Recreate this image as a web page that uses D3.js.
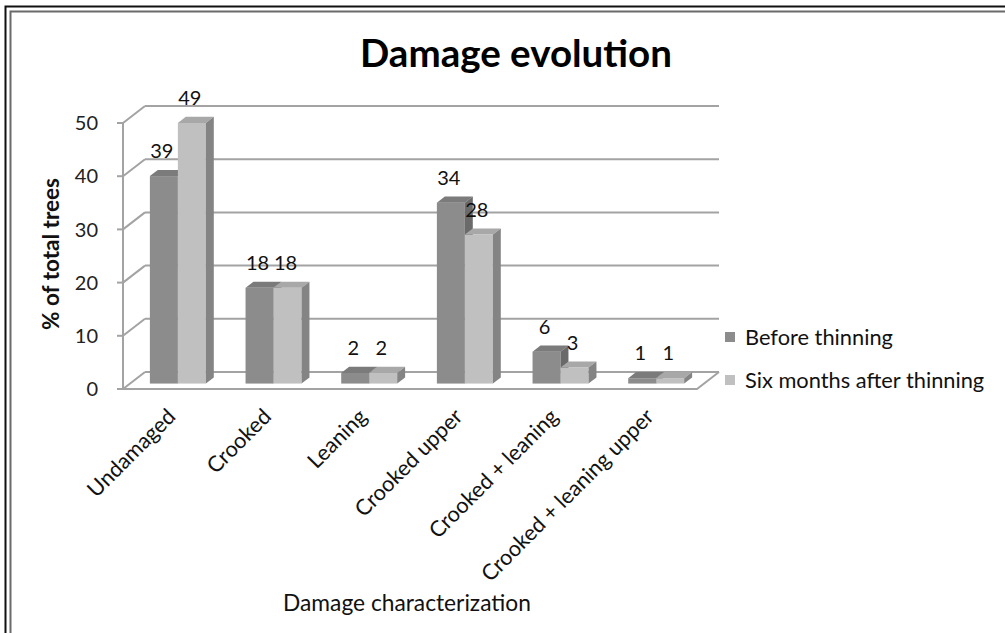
<!DOCTYPE html>
<html>
<head>
<meta charset="utf-8">
<script src="https://cdn.jsdelivr.net/npm/d3@7"></script>
<style>
  body { margin: 0; background: #fff; }
  svg { display: block; font-family: Lato, "Open Sans", sans-serif; }
</style>
</head>
<body>
<div id="chart"></div>
<script>
// data
const categories = ['Undamaged', 'Crooked', 'Leaning', 'Crooked upper', 'Crooked + leaning', 'Crooked + leaning upper'];
const seriesNames = ['Before thinning', 'Six months after thinning'];
const beforeValues = [39, 18, 2, 34, 6, 1];
const afterValues = [49, 18, 2, 28, 3, 1];
const yTicks = [0, 10, 20, 30, 40, 50];

const W = 1005, H = 633;
const DX = 22, DY = 17;      // depth of the 3d box
const F1 = 0.32, F2 = 0.68;  // bars sit between these depth fractions
const frontColors = ['#8c8c8c', '#c0c0c0'];
const topColors = ['#7b7b7b', '#a8a8a8'];
const sideColors = ['#6a6a6a', '#848484'];
const gridColor = '#a3a3a3';

const svg = d3.select('#chart').append('svg').attr('width', W).attr('height', H);

// fit a text to a width by changing its font size
function fitText(sel, width) {
  const base = parseFloat(sel.attr('font-size'));
  const len = sel.node().getComputedTextLength();
  sel.attr('font-size', (base * width / len).toFixed(2));
}

// frame
svg.append('path').attr('d', `M5.5,${H}V6.5H${W}`).attr('fill', 'none').attr('stroke', '#111').attr('stroke-width', 2);
svg.append('path').attr('d', `M10.5,${H}V11.5H${W}`).attr('fill', 'none').attr('stroke', '#6a6a6a').attr('stroke-width', 2);

const x = d3.scaleBand().domain(categories).range([123, 697]);
const y = d3.scaleLinear().domain([0, 50]).range([389, 123]);
const xs = d3.scaleBand().domain([0, 1]).range([-28, 28]);

// back wall grid, side wall diagonals, ticks
const grid = svg.append('g').attr('stroke', gridColor).attr('stroke-width', 2).attr('fill', 'none');
yTicks.forEach(t => {
  grid.append('line').attr('x1', 123 + DX).attr('x2', 697 + DX).attr('y1', y(t) - DY).attr('y2', y(t) - DY);
  grid.append('line').attr('x1', 123).attr('x2', 123 + DX).attr('y1', y(t)).attr('y2', y(t) - DY);
  grid.append('line').attr('x1', 117).attr('x2', 123).attr('y1', y(t)).attr('y2', y(t));
});
grid.append('line').attr('x1', 123).attr('x2', 123).attr('y1', y(50)).attr('y2', y(0));
// floor front and right edge
grid.append('path').attr('d', `M123,${y(0)}H697L${697 + DX},${y(0) - DY}`);

// y tick labels
svg.append('g').selectAll('text').data(yTicks).join('text')
  .attr('x', 98).attr('y', d => y(d)).attr('dy', '0.36em')
  .attr('text-anchor', 'end').attr('font-size', 20).attr('fill', '#222')
  .text(d => d);

// bars
const bars = [];
categories.forEach((c, i) => {
  [beforeValues[i], afterValues[i]].forEach((v, s) => bars.push({ c, s, v }));
});
const bdx = (F2 - F1) * DX, bdy = (F2 - F1) * DY;
const barW = xs.bandwidth();
const barG = svg.append('g');
bars.forEach(d => {
  const x0 = x(d.c) + x.bandwidth() / 2 + xs(d.s) + F1 * DX;
  const x1 = x0 + barW;
  const yb = y(0) - F1 * DY;
  const yt = y(d.v) - F1 * DY;
  const g = barG.append('g');
  g.append('rect').attr('x', x0).attr('y', yt).attr('width', barW).attr('height', yb - yt)
    .attr('fill', frontColors[d.s]);
  g.append('path').attr('d', `M${x0},${yt}L${x1},${yt}L${x1 + bdx},${yt - bdy}L${x0 + bdx},${yt - bdy}Z`)
    .attr('fill', topColors[d.s]);
  g.append('path').attr('d', `M${x1},${yt}L${x1 + bdx},${yt - bdy}L${x1 + bdx},${yb - bdy}L${x1},${yb}Z`)
    .attr('fill', sideColors[d.s]);
  d.lx = (x0 + x1) / 2 - 2;
  d.ly = yt - 18;
});

// data labels
svg.append('g').selectAll('text').data(bars).join('text')
  .attr('x', d => d.lx).attr('y', d => d.ly)
  .attr('text-anchor', 'middle').attr('font-size', 20).attr('fill', '#111')
  .text(d => d.v);

// category labels
const catLabels = svg.append('g').selectAll('text').data(categories).join('text')
  .attr('transform', d => `translate(${x(d) + x.bandwidth() / 2 + 6},${418}) rotate(-45)`)
  .attr('text-anchor', 'end').attr('font-size', 18).attr('fill', '#111')
  .text(d => d);
// size all category labels from "Crooked + leaning"
const refLabel = catLabels.filter(d => d === 'Crooked + leaning');
fitText(refLabel, 172);
catLabels.attr('font-size', refLabel.attr('font-size'));

// title
const title = svg.append('text').attr('x', 516).attr('y', 67).attr('text-anchor', 'middle')
  .attr('font-size', 32).attr('font-weight', 'bold').attr('fill', '#000').text('Damage evolution');
fitText(title, 312);

// axis titles
const yTitle = svg.append('text').attr('transform', 'translate(59,254) rotate(-90)')
  .attr('text-anchor', 'middle').attr('font-size', 16).attr('font-weight', 'bold').attr('fill', '#111')
  .text('% of total trees');
fitText(yTitle, 152);

const xTitle = svg.append('text').attr('x', 407).attr('y', 611).attr('text-anchor', 'middle')
  .attr('font-size', 17).attr('fill', '#111').text('Damage characterization');
fitText(xTitle, 248);

// legend
const legend = svg.append('g').selectAll('g').data(seriesNames).join('g')
  .attr('transform', (d, i) => `translate(725,${337 + i * 43})`);
legend.append('rect').attr('x', 0).attr('y', -5).attr('width', 10).attr('height', 10)
  .attr('fill', (d, i) => frontColors[i]);
const legText = legend.append('text').attr('x', 20).attr('dy', '0.36em')
  .attr('font-size', 18).attr('fill', '#111').text(d => d);
fitText(legText.filter((d, i) => i === 0), 148);
legText.attr('font-size', legText.filter((d, i) => i === 0).attr('font-size'));
</script>
</body>
</html>
